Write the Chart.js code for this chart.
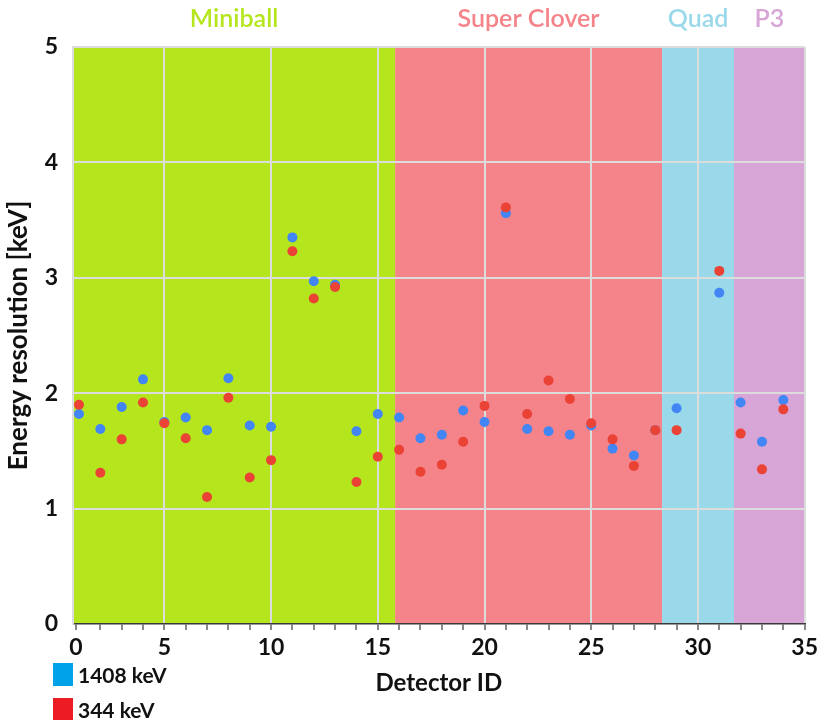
<!DOCTYPE html>
<html>
<head>
<meta charset="utf-8">
<script src="https://cdn.jsdelivr.net/npm/chart.js@4.4.1/dist/chart.umd.min.js"></script>
<style>
  body { margin: 0; background: #fff; }
  #wrap { position: relative; width: 822px; height: 720px; }
  .legend-item {
    position: absolute;
    left: 53px;
    display: flex;
    align-items: center;
    font: bold 21px Lato, sans-serif;
    color: #111;
  }
  .legend-item span { display: inline-block; width: 20px; height: 23px; margin-right: 5px; }
</style>
</head>
<body>
<div id="wrap">
  <canvas id="chart" width="822" height="720"></canvas>
</div>
<script>
// detector IDs (no detector 30 in the data)
const detectorIds = [
  1, 2, 3, 4, 5, 6, 7, 8, 9, 10, 11, 12, 13, 14, 15, 16, 17, 18, 19, 20,
  21, 22, 23, 24, 25, 26, 27, 28, 29, 31, 32, 33, 34
]

// energy resolution [keV]
const res1408 = [
  1.82, 1.69, 1.88, 2.12, 1.75, 1.79, 1.68, 2.13, 1.72, 1.71, 3.35, 2.97, 2.94, 1.67, 1.82, 1.79,
  1.61, 1.64, 1.85, 1.75, 3.56, 1.69, 1.67, 1.64, 1.72, 1.52, 1.46, 1.68, 1.87, 2.87, 1.92, 1.58, 1.94
]
const res344 = [
  1.90, 1.31, 1.60, 1.92, 1.74, 1.61, 1.10, 1.96, 1.27, 1.42, 3.23, 2.82, 2.92, 1.23, 1.45, 1.51,
  1.32, 1.38, 1.58, 1.89, 3.61, 1.82, 2.11, 1.95, 1.74, 1.60, 1.37, 1.68, 1.68, 3.06, 1.65, 1.34, 1.86
]

// detector array regions along the x axis
const regionNames = ['Miniball', 'Super Clover', 'Quad', 'P3']
const regionEdges = [0.72, 15.81, 28.32, 31.69, 35]
const regionColors = ['#b5e61d', '#f5848a', '#99d9ea', '#d7a5d6']

// x axis: the left edge carries the "0" label in the original figure
const xMin = 0.72
const xMax = 35
const xMajorTicks = [0.86, 5, 10, 15, 20, 25, 30, 35]
const xMajorLabels = ['0', '5', '10', '15', '20', '25', '30', '35']

const legendLabels = ['1408 keV', '344 keV']
const legendColors = ['#00a2e8', '#ed1c24']

const FONT = 'Lato, sans-serif'

const toPoints = ys => ys.map((y, i) => ({ x: detectorIds[i], y }))

// legend below the plot, stacked on the left
const wrap = document.getElementById('wrap')
legendLabels.forEach((label, i) => {
  const item = document.createElement('div')
  item.className = 'legend-item'
  item.style.top = (662 + i * 35) + 'px'
  const box = document.createElement('span')
  box.style.background = legendColors[i]
  item.appendChild(box)
  item.appendChild(document.createTextNode(label))
  wrap.appendChild(item)
})

const regionsPlugin = {
  id: 'regions',
  beforeDraw(chart) {
    const { ctx, chartArea, scales: { x } } = chart
    ctx.save()
    regionNames.forEach((_, i) => {
      const x0 = x.getPixelForValue(regionEdges[i])
      const x1 = x.getPixelForValue(regionEdges[i + 1])
      ctx.fillStyle = regionColors[i]
      ctx.fillRect(x0, chartArea.top, x1 - x0, chartArea.bottom - chartArea.top)
    })
    ctx.restore()
  },
  afterDraw(chart) {
    const { ctx, scales: { x } } = chart
    ctx.save()
    ctx.font = '600 25px ' + FONT
    ctx.textAlign = 'center'
    ctx.textBaseline = 'middle'
    regionNames.forEach((name, i) => {
      const mid = (x.getPixelForValue(regionEdges[i]) + x.getPixelForValue(regionEdges[i + 1])) / 2
      ctx.fillStyle = regionColors[i]
      ctx.fillText(name, mid, 19)
    })
    ctx.restore()
  }
}

const xTicks = xMajorTicks.slice()
for (let v = 2; v < xMax; v++) {
  if (v % 5 !== 0) xTicks.push(v)
}
xTicks.sort((a, b) => a - b)

new Chart(document.getElementById('chart'), {
  type: 'scatter',
  data: {
    datasets: [
      {
        label: legendLabels[0],
        data: toPoints(res1408),
        backgroundColor: '#4285f4',
        borderWidth: 0,
        pointRadius: 5,
        order: 1
      },
      {
        label: legendLabels[1],
        data: toPoints(res344),
        backgroundColor: '#ea4335',
        borderWidth: 0,
        pointRadius: 5,
        order: 0
      }
    ]
  },
  options: {
    responsive: false,
    animation: false,
    events: [],
    layout: { padding: { top: 47, right: 15, left: 0, bottom: 0 } },
    plugins: {
      legend: { display: false },
      tooltip: { enabled: false }
    },
    scales: {
      x: {
        type: 'linear',
        min: xMin,
        max: xMax,
        afterFit: s => { s.height = 96 },
        afterBuildTicks: s => {
          s.ticks = xTicks.map(value => ({ value }))
        },
        border: { color: '#3a3a3a', width: 1.5 },
        grid: {
          color: c => (c.tick && xMajorTicks.includes(c.tick.value) && c.tick.value >= 5 ? '#dcdcdc' : 'rgba(0,0,0,0)'),
          lineWidth: 2,
          tickColor: '#3a3a3a',
          tickLength: 6,
          tickWidth: 1.2
        },
        ticks: {
          autoSkip: false,
          maxRotation: 0,
          padding: 4,
          color: '#111',
          font: { family: FONT, size: 23, weight: 'bold' },
          callback: value => {
            const i = xMajorTicks.indexOf(value)
            return i >= 0 ? xMajorLabels[i] : ''
          }
        },
        title: {
          display: true,
          text: 'Detector ID',
          color: '#111',
          font: { family: FONT, size: 24, weight: 'bold' },
          padding: { top: 0, bottom: 22 }
        }
      },
      y: {
        min: 0,
        max: 5,
        afterFit: s => { s.width = 73 },
        border: { color: '#dcdcdc', width: 2 },
        grid: {
          color: c => (c.tick && c.tick.value === 0 ? 'rgba(0,0,0,0)' : '#dcdcdc'),
          lineWidth: 2,
          drawTicks: false
        },
        ticks: {
          stepSize: 1,
          padding: 15,
          color: '#111',
          font: { family: FONT, size: 23, weight: 'bold' }
        },
        title: {
          display: true,
          text: 'Energy resolution [keV]',
          color: '#111',
          font: { family: FONT, size: 26, weight: 'bold' },
          padding: { top: 3 }
        }
      }
    }
  },
  plugins: [regionsPlugin]
})
</script>
</body>
</html>
